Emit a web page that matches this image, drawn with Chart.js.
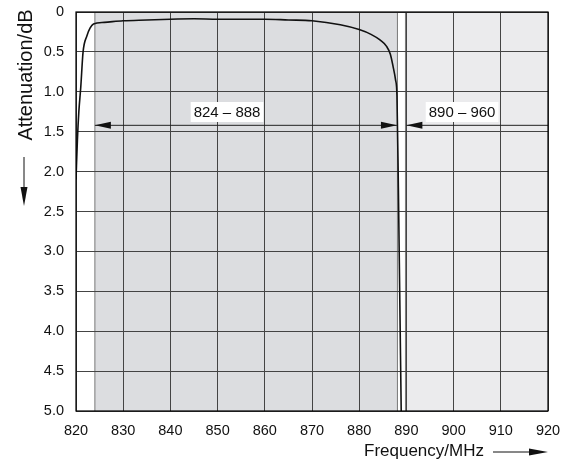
<!DOCTYPE html>
<html>
<head>
<meta charset="utf-8">
<script src="https://cdn.jsdelivr.net/npm/chart.js@4.4.0/dist/chart.umd.min.js"></script>
<style>
  html, body { margin: 0; padding: 0; background: #fff; }
  #wrap { width: 574px; height: 461px; position: relative; }
</style>
</head>
<body>
<div id="wrap"><canvas id="myChart"></canvas></div>
<script>
//------Data------
const freqs = [820, 820.3, 820.6, 821, 821.5, 822.3, 823, 823.7, 826, 830, 835, 840, 845, 850, 855, 860, 865, 870, 876, 880, 882.5, 884.4, 885.8, 886.6, 887.2, 887.7, 888.0, 888.3, 888.6, 888.9];
const atten = [2.1, 1.6, 1.25, 0.95, 0.5, 0.3, 0.2, 0.15, 0.13, 0.11, 0.1, 0.09, 0.085, 0.09, 0.09, 0.09, 0.1, 0.11, 0.16, 0.22, 0.28, 0.35, 0.43, 0.53, 0.69, 0.85, 1.05, 2.2, 3.6, 5.0];
const xTicks = [820, 830, 840, 850, 860, 870, 880, 890, 900, 910, 920];
const yTicks = [0, 0.5, 1.0, 1.5, 2.0, 2.5, 3.0, 3.5, 4.0, 4.5, 5.0];
const bands = [
  { from: 824, to: 888.1, color: '#dcdde0', label: '824 – 888' },
  { from: 889.8, to: 920, color: '#ebebed', label: '890 – 960' }
];
const arrowLevel = 1.42;
//--------------

const font = "'Liberation Sans', Arial, sans-serif";

function arrowHead(ctx, x, y, dir) {
  ctx.beginPath();
  ctx.moveTo(x, y);
  ctx.lineTo(x - dir * 16, y - 3.5);
  ctx.lineTo(x - dir * 16, y + 3.5);
  ctx.closePath();
  ctx.fill();
}

const decor = {
  id: 'decor',
  beforeDraw(chart) {
    const { ctx, chartArea: a, scales: { x, y } } = chart;
    ctx.save();
    bands.forEach((b) => {
      const x1 = x.getPixelForValue(b.from);
      const x2 = x.getPixelForValue(b.to);
      ctx.fillStyle = b.color;
      ctx.fillRect(x1, a.top, x2 - x1, a.bottom - a.top);
      ctx.strokeStyle = '#777';
      ctx.lineWidth = 1;
      ctx.beginPath();
      ctx.moveTo(x1, a.top); ctx.lineTo(x1, a.bottom);
      if (b.to < 920) { ctx.moveTo(x2, a.top); ctx.lineTo(x2, a.bottom); }
      ctx.stroke();
    });
    ctx.restore();
  },
  afterDatasetsDraw(chart) {
    const { ctx, chartArea: a, scales: { x, y } } = chart;
    const yl = y.getPixelForValue(arrowLevel);
    ctx.save();
    ctx.strokeStyle = '#222';
    ctx.fillStyle = '#111';
    ctx.lineWidth = 1;

    // 824 - 888
    let l = x.getPixelForValue(824), r = x.getPixelForValue(888);
    ctx.beginPath(); ctx.moveTo(l, yl); ctx.lineTo(r, yl); ctx.stroke();
    arrowHead(ctx, l, yl, -1);
    arrowHead(ctx, r, yl, 1);

    // 890 - 960
    l = x.getPixelForValue(890);
    ctx.beginPath(); ctx.moveTo(l, yl); ctx.lineTo(a.right, yl); ctx.stroke();
    arrowHead(ctx, l, yl, -1);

    // labels
    ctx.font = '15px ' + font;
    ctx.textAlign = 'center';
    ctx.textBaseline = 'middle';
    [[852.0, bands[0].label], [901.8, bands[1].label]].forEach(([f, t]) => {
      const cx = x.getPixelForValue(f);
      const cy = 112;
      const w = ctx.measureText(t).width + 6;
      ctx.fillStyle = '#fff';
      ctx.fillRect(cx - w / 2, cy - 10, w, 20);
      ctx.fillStyle = '#111';
      ctx.fillText(t, cx, cy + 1);
    });
    ctx.restore();
  },
  afterDraw(chart) {
    const { ctx, chartArea: a } = chart;
    ctx.save();
    ctx.strokeStyle = '#000';
    ctx.lineWidth = 1.2;
    ctx.strokeRect(a.left, a.top, a.right - a.left, a.bottom - a.top);

    ctx.fillStyle = '#111';
    // y title
    ctx.save();
    ctx.font = '20px ' + font;
    ctx.translate(26, 75);
    ctx.rotate(-Math.PI / 2);
    ctx.textAlign = 'center';
    ctx.textBaseline = 'middle';
    ctx.fillText('Attenuation/dB', 0, 0);
    ctx.restore();
    // y arrow
    ctx.lineWidth = 1;
    ctx.strokeStyle = '#111';
    ctx.beginPath(); ctx.moveTo(24, 157); ctx.lineTo(24, 190); ctx.stroke();
    ctx.beginPath();
    ctx.moveTo(24, 206); ctx.lineTo(20.5, 187); ctx.lineTo(27.5, 187); ctx.closePath(); ctx.fill();

    // x title
    ctx.font = '17px ' + font;
    ctx.textAlign = 'center';
    ctx.textBaseline = 'middle';
    ctx.fillText('Frequency/MHz', 424, 451);
    ctx.beginPath(); ctx.moveTo(493, 452); ctx.lineTo(532, 452); ctx.stroke();
    ctx.beginPath();
    ctx.moveTo(548, 452); ctx.lineTo(529, 448.5); ctx.lineTo(529, 455.5); ctx.closePath(); ctx.fill();
    ctx.restore();
  }
};

const ctxx = document.getElementById('myChart').getContext('2d');

new Chart(ctxx, {
  type: 'line',
  data: {
    datasets: [{
      data: freqs.map((f, i) => ({ x: f, y: atten[i] })),
      borderColor: '#111',
      borderWidth: 1.6,
      pointRadius: 0,
      fill: false,
      cubicInterpolationMode: 'monotone'
    }]
  },
  options: {
    responsive: true,
    maintainAspectRatio: false,
    animation: false,
    layout: { padding: { top: 12, right: 26, left: 0, bottom: 0 } },
    plugins: { legend: { display: false }, tooltip: { enabled: false } },
    scales: {
      x: {
        type: 'linear',
        min: 820, max: 920,
        afterBuildTicks: (s) => { s.ticks = xTicks.map((v) => ({ value: v })); },
        afterFit: (s) => { s.height = 50; s.paddingLeft = 0; s.paddingRight = 0; },
        grid: { color: '#444', lineWidth: 1, drawTicks: false },
        border: { display: false },
        ticks: { color: '#111', font: { family: font, size: 14.5 }, padding: 11, maxRotation: 0,
          callback: (v) => String(v) }
      },
      y: {
        type: 'linear',
        reverse: true,
        min: 0, max: 5,
        afterBuildTicks: (s) => { s.ticks = yTicks.map((v) => ({ value: v })); },
        afterFit: (s) => { s.width = 76; s.paddingTop = 0; s.paddingBottom = 0; },
        grid: { color: '#444', lineWidth: 1, drawTicks: false },
        border: { display: false },
        ticks: { color: '#111', font: { family: font, size: 14.5 }, padding: 12,
          callback: (v) => (v === 0 ? '0' : v.toFixed(1)) }
      }
    }
  },
  plugins: [decor]
});
</script>
</body>
</html>
